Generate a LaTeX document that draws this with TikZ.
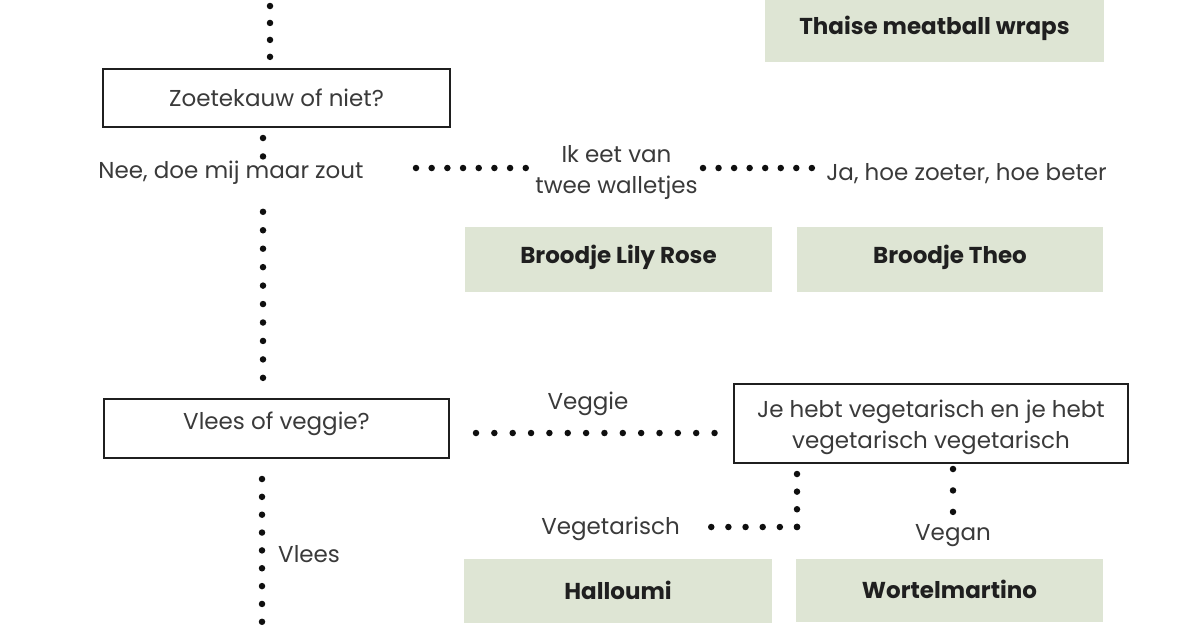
\documentclass[tikz,border=0pt]{standalone}
\usepackage{fontspec}
\setmainfont{Poppins}
\definecolor{sage}{RGB}{222,229,212}
\definecolor{ink}{RGB}{58,58,58}
\definecolor{dotc}{RGB}{15,15,15}
\begin{document}
\begin{tikzpicture}[x=1pt,y=-1pt,
  qbox/.style={draw=black!88, line width=2.5pt, fill=white, inner sep=0pt,
    font=\fontsize{23}{31}\selectfont, text=ink, text height=16pt, text depth=0pt},
  dish/.style={fill=sage, inner sep=0pt, text=black!88,
    font=\fontsize{23}{28}\selectfont\bfseries, text height=16pt, text depth=0pt},
  lbl/.style={inner sep=0pt, text=ink, font=\fontsize{23}{31}\selectfont},
  dotline/.style={draw=dotc, line width=6.5pt, line cap=round, dash pattern=on 0pt off #1},
]
\useasboundingbox[fill=white] (0,0) rectangle (1200,627);

% question boxes
\node[qbox, minimum width=347pt, minimum height=58pt] (zoet) at (276.5,98) {Zoetekauw of niet?};
\node[qbox, minimum width=345pt, minimum height=59pt, text depth=14pt] (vlees) at (276.5,428.5) {Vlees of veggie?};
\node[qbox, minimum width=394pt, minimum height=79pt] (vega) at (931,423.5) {};
\node[lbl, anchor=base] (vega1) at (931,417) {Je hebt vegetarisch en je hebt};
\node[lbl, anchor=base] (vega2) at (931,448) {vegetarisch vegetarisch};

% dishes
\node[dish, minimum width=339pt, minimum height=65pt, text depth=6pt] (thai) at (934.5,29.5) {Thaise meatball wraps};
\node[dish, minimum width=307pt, minimum height=65pt, text depth=9pt] (lily) at (618.5,259.5) {Broodje Lily Rose};
\node[dish, minimum width=306pt, minimum height=65pt, text depth=9pt] (theo) at (950,259.5) {Broodje Theo};
\node[dish, minimum width=308pt, minimum height=64pt] (hall) at (618,591) {Halloumi};
\node[dish, minimum width=307pt, minimum height=63pt] (wort) at (949.5,590.5) {Wortelmartino};

% answer labels
\node[lbl, anchor=base] (nee) at (231,178) {Nee, doe mij maar zout};
\node[lbl, anchor=base] (twee1) at (616.5,162) {Ik eet van};
\node[lbl, anchor=base] (twee2) at (616.5,193) {twee walletjes};
\node[lbl, anchor=base] (ja) at (966.5,180) {Ja, hoe zoeter, hoe beter};
\node[lbl, anchor=base] (veggie) at (588,409) {Veggie};
\node[lbl, anchor=base] (vegt) at (610.5,534) {Vegetarisch};
\node[lbl, anchor=base] (vegan) at (953,540) {Vegan};
\node[lbl, anchor=base west] (vleesl) at (278,562) {Vlees};

% connector end points
\coordinate (t0) at (270,6);   \coordinate (t1) at (270,57);
\coordinate (a0) at (263,138); \coordinate (a1) at (263,156.5);
\coordinate (b0) at (263,211.8); \coordinate (b1) at (263,378);
\coordinate (c0) at (416,168); \coordinate (c1) at (526,168);
\coordinate (d0) at (703,168); \coordinate (d1) at (812,168);
\coordinate (e0) at (476,433); \coordinate (e1) at (715,433);
\coordinate (f0) at (797,474); \coordinate (f1) at (797,527); \coordinate (f2) at (711,527);
\coordinate (g0) at (953,469); \coordinate (g1) at (953,512);
\coordinate (h0) at (262,479); \coordinate (h1) at (262,622);

% dotted connectors
\draw[dotline=16.95pt] (t0) -- (t1);
\draw[dotline=18.45pt] (a0) -- (a1);
\draw[dotline=18.45pt] (b0) -- (b1);
\draw[dotline=15.68pt] (c0) -- (c1);
\draw[dotline=15.55pt] (d0) -- (d1);
\draw[dotline=18.35pt] (e0) -- (e1);
\draw[dotline=17.63pt] (f0) -- (f1);
\draw[dotline=17.15pt] (f1) -- (f2);
\draw[dotline=21.45pt] (g0) -- (g1);
\draw[dotline=17.85pt] (h0) -- (h1);
\end{tikzpicture}
\end{document}
